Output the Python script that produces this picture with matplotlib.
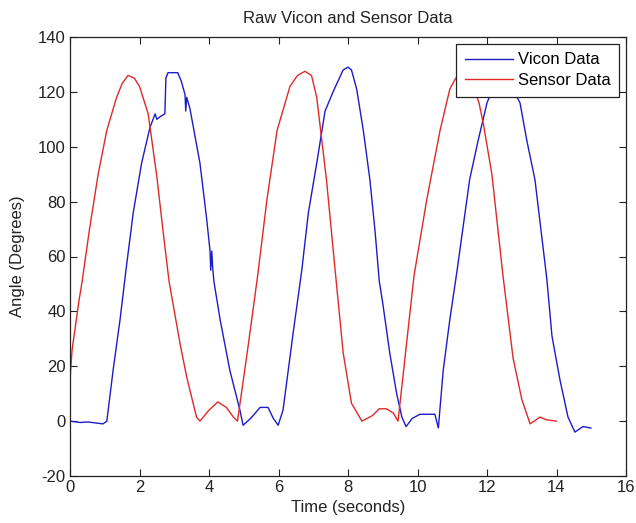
import matplotlib
matplotlib.use("Agg")
import matplotlib.pyplot as plt
from matplotlib import font_manager

# Sensor Data (red)
sensor_t = [0, 0.06, 0.26, 0.35, 0.55, 0.81, 1.06, 1.34, 1.5, 1.67, 1.85, 2.0, 2.25, 2.5, 2.68,
            2.85, 3.17, 3.36, 3.64, 3.74, 4.0, 4.25, 4.5, 4.7, 4.82, 5.1, 5.4, 5.67, 5.96, 6.33,
            6.55, 6.76, 6.95, 7.1, 7.38, 7.63, 7.86, 8.1, 8.4, 8.7, 8.9, 9.1, 9.3, 9.44, 9.7,
            9.9, 10.27, 10.65, 10.93, 11.1, 11.35, 11.6, 11.77, 11.9, 12.14, 12.46, 12.75, 13.0,
            13.24, 13.53, 13.7, 14.0]
sensor_y = [15, 26, 44, 51, 69, 90, 106, 118, 123, 126, 125, 122, 112, 89, 69,
            51, 28, 16, 1.5, 0, 4, 7, 5, 1.5, 0, 25, 53, 81, 106, 122,
            126, 127.5, 126, 118, 88, 55, 25, 6.5, 0, 2, 4.5, 4.5, 3, 0, 30,
            53, 81, 106, 121, 125, 126, 122, 116, 108, 90, 53, 23, 8,
            -1, 1.5, 0.5, 0]

# Vicon Data (blue)
vicon_t = [0, 0.3, 0.5, 0.7, 0.95, 1.06, 1.24, 1.44, 1.61, 1.82, 2.06, 2.3, 2.45, 2.5, 2.6,
           2.73, 2.76, 2.82, 3.1, 3.2, 3.31, 3.33, 3.36, 3.45, 3.74, 3.93, 4.03, 4.05, 4.08,
           4.1, 4.14, 4.32, 4.6, 4.89, 4.98, 5.2, 5.47, 5.7, 5.85, 5.99, 6.13, 6.42, 6.67,
           6.86, 7.1, 7.34, 7.57, 7.86, 8.0, 8.1, 8.25, 8.44, 8.63, 8.78, 8.9, 9.0, 9.2, 9.4,
           9.55, 9.67, 9.85, 10.07, 10.5, 10.6, 10.74, 10.93, 11.14, 11.5, 11.74, 12.0, 12.2,
           12.45, 12.7, 12.95, 13.15, 13.38, 13.72, 13.87, 14.1, 14.33, 14.53, 14.76, 14.99]
vicon_y = [0, -0.5, -0.3, -0.6, -1, 0, 18.5, 37, 55, 76, 94, 107, 112, 110, 111,
           112, 125, 127, 127, 124, 119, 113, 118, 114, 94, 74, 62, 55, 62,
           57, 51, 37, 18.5, 4, -1.5, 1, 5, 5, 1, -1.5, 4, 32, 55,
           76, 94, 113, 120, 128, 129, 128, 121, 106, 88, 69, 51, 43, 25, 10,
           1.5, -2, 1, 2.5, 2.5, -2.5, 18.5, 37, 55, 88, 102, 116, 122,
           125, 122, 116, 102, 88, 52, 31, 15, 1.5, -4, -2, -2.5]

x_ticks = [0, 2, 4, 6, 8, 10, 12, 14, 16]
y_ticks = [-20, 0, 20, 40, 60, 80, 100, 120, 140]

# pick a narrow sans if available, otherwise regular
try:
    font_manager.findfont(font_manager.FontProperties(family='Liberation Sans Narrow'),
                          fallback_to_default=False)
    plt.rcParams['font.family'] = ['Liberation Sans Narrow', 'DejaVu Sans']
    FS = 14
except Exception:
    plt.rcParams['font.family'] = ['Liberation Sans', 'DejaVu Sans']
    FS = 12
plt.rcParams['axes.unicode_minus'] = False

TXT = '#222222'
W, H = 636, 523
fig = plt.figure(figsize=(W / 100, H / 100), dpi=100)
ax = fig.add_axes([70 / W, 1 - 476 / H, 556 / W, 439 / H])

ax.plot(vicon_t, vicon_y, color='#1c1cc8', lw=1.0, label='Vicon Data')
ax.plot(sensor_t, sensor_y, color='#e02828', lw=1.0, label='Sensor Data')

ax.set_xlim(0, 16)
ax.set_ylim(-20, 140)
ax.set_xticks(x_ticks)
ax.set_yticks(y_ticks)
ax.tick_params(direction='in', top=True, right=True, length=5, width=0.8,
               labelsize=FS, colors=TXT, pad=3)
for s in ax.spines.values():
    s.set_linewidth(0.9)
    s.set_color(TXT)

ax.set_title('Raw Vicon and Sensor Data', fontsize=FS, color=TXT, pad=10)
ax.set_xlabel('Time (seconds)', fontsize=FS, color=TXT)
ax.set_ylabel('Angle (Degrees)', fontsize=FS, color=TXT)
ax.xaxis.set_label_coords(0.5, (476 - 500) / 439)
ax.yaxis.set_label_coords((25 - 70) / 556, 0.5)

leg = ax.legend(loc='upper right', fontsize=FS, handlelength=2.9, handletextpad=0.3,
                labelspacing=0.35, borderpad=0.5, borderaxespad=0.42, fancybox=False,
                framealpha=1, edgecolor=TXT)
leg.get_frame().set_linewidth(0.9)

fig.savefig('out.png', dpi=100)
